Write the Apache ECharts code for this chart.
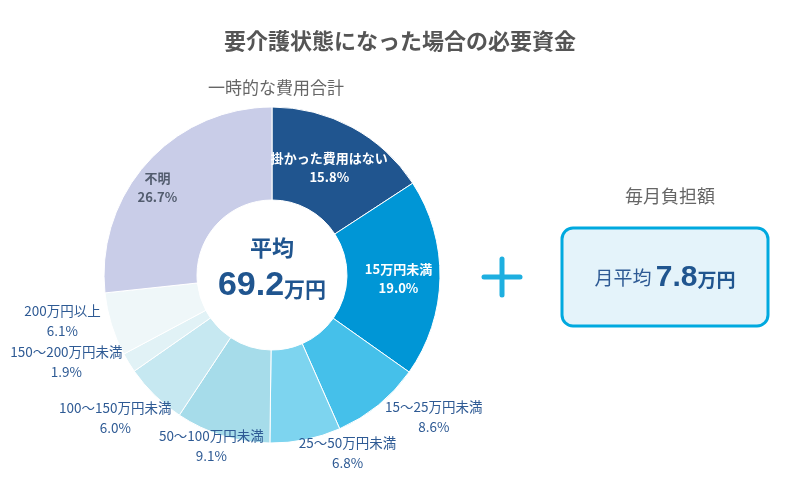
<!DOCTYPE html>
<html>
<head>
<meta charset="utf-8">
<script src="https://cdn.jsdelivr.net/npm/echarts@6/dist/echarts.min.js"></script>
<style>
html,body{margin:0;padding:0;background:#fff;}
#chart{width:800px;height:485px;}
</style>
</head>
<body>
<div id="chart"></div>
<script>
const categories = ['掛かった費用はない','15万円未満','15～25万円未満','25～50万円未満','50～100万円未満','100～150万円未満','150～200万円未満','200万円以上','不明'];
const shares = [15.8, 19.0, 8.6, 6.8, 9.1, 6.0, 1.9, 6.1, 26.7];
const averageTotal = '69.2';
const averageMonthly = '7.8';

const colors = ['#20558f','#0096d6','#45c0ea','#7dd4ef','#a6dcea','#c6e8f1','#e1f2f6','#eff7f9','#c9cde8'];
const insideIdx = [0, 1, 8];
const innerOffsets = {0:[-2,2],1:[2,1],8:[-22,-4]};
const outerOffsets = {2:[27,-23],3:[33,-31],4:[2,-33],5:[-8,-10],6:[-24,-24],7:[-6,-17]};

const font = '"Noto Sans CJK JP", "Noto Sans", sans-serif';
const fmt = p => p.name + '\n' + Number(p.value).toFixed(1) + '%';

const mainData = categories.map((n, i) => ({
  name: n, value: shares[i],
  itemStyle: { color: colors[i] },
  label: insideIdx.includes(i) ? {
    show: true, position: 'inside',
    color: i === 8 ? '#525c6e' : '#ffffff',
    fontWeight: 'bold'
  } : { show: false }
}));
const outerData = categories.map((n, i) => ({
  name: n, value: shares[i],
  label: { show: !insideIdx.includes(i) }
}));

const chart = echarts.init(document.getElementById('chart'));
chart.setOption({
  animation: false,
  textStyle: { fontFamily: font },
  title: [
    { text: '要介護状態になった場合の必要資金', left: 'center', top: 25,
      textStyle: { fontSize: 22, fontWeight: 'bold', color: '#555555', fontFamily: font } },
    { text: '一時的な費用合計', left: 271, textAlign: 'center', top: 74,
      textStyle: { fontSize: 17, fontWeight: 'normal', color: '#666666', fontFamily: font } },
    { text: '毎月負担額', left: 665, textAlign: 'center', top: 182,
      textStyle: { fontSize: 18, fontWeight: 'normal', color: '#666666', fontFamily: font } }
  ],
  series: [
    {
      type: 'pie', center: [272, 275], radius: [75, 168], startAngle: 90,
      silent: true,
      itemStyle: { borderColor: '#ffffff', borderWidth: 1 },
      label: { formatter: fmt, fontSize: 13, lineHeight: 19, fontFamily: font, align: 'center' },
      labelLine: { show: false },
      labelLayout: p => { const o = innerOffsets[p.dataIndex] || [0,0]; return { dx: o[0], dy: o[1] }; },
      data: mainData
    },
    {
      type: 'pie', center: [272, 275], radius: [168, 252], startAngle: 90,
      silent: true,
      itemStyle: { color: 'rgba(0,0,0,0)' },
      label: { position: 'inside', formatter: fmt, fontSize: 13.5, lineHeight: 20,
        color: '#2e5a94', fontFamily: font, align: 'center' },
      labelLine: { show: false },
      labelLayout: p => { const o = outerOffsets[p.dataIndex] || [0,0]; return { dx: o[0], dy: o[1] }; },
      data: outerData
    }
  ],
  graphic: [
    { type: 'text', x: 272, y: 248,
      style: { text: '平均', fill: '#20558f', font: 'bold 22px ' + font, align: 'center', verticalAlign: 'middle' } },
    { type: 'text', x: 272, y: 286,
      style: { text: '{n|' + averageTotal + '}{u|万円}', align: 'center', verticalAlign: 'middle',
        rich: { n: { fontSize: 34, fontWeight: 'bold', fill: '#20558f', fontFamily: 'Liberation Sans, Arial, sans-serif' },
                u: { fontSize: 21, fontWeight: 'bold', fill: '#20558f', fontFamily: font, padding: [6,0,0,0] } } } },
    { type: 'line', shape: { x1: 484, y1: 277, x2: 520, y2: 277 }, style: { stroke: '#1eafe0', lineWidth: 5, lineCap: 'round' } },
    { type: 'line', shape: { x1: 502, y1: 259, x2: 502, y2: 295 }, style: { stroke: '#1eafe0', lineWidth: 5, lineCap: 'round' } },
    { type: 'rect', shape: { x: 562, y: 228, width: 206, height: 98, r: 11 },
      style: { fill: '#e4f3fa', stroke: '#00a9df', lineWidth: 3 } },
    { type: 'text', x: 665, y: 278,
      style: { text: '{a|月平均 }{n|' + averageMonthly + '}{u|万円}', align: 'center', verticalAlign: 'middle',
        rich: { a: { fontSize: 19, fill: '#2e5a94', fontFamily: font },
                n: { fontSize: 30, fontWeight: 'bold', fill: '#20558f', fontFamily: 'Liberation Sans, Arial, sans-serif' },
                u: { fontSize: 19, fontWeight: 'bold', fill: '#20558f', fontFamily: font, padding: [4,0,0,0] } } } }
  ]
});
</script>
</body>
</html>
